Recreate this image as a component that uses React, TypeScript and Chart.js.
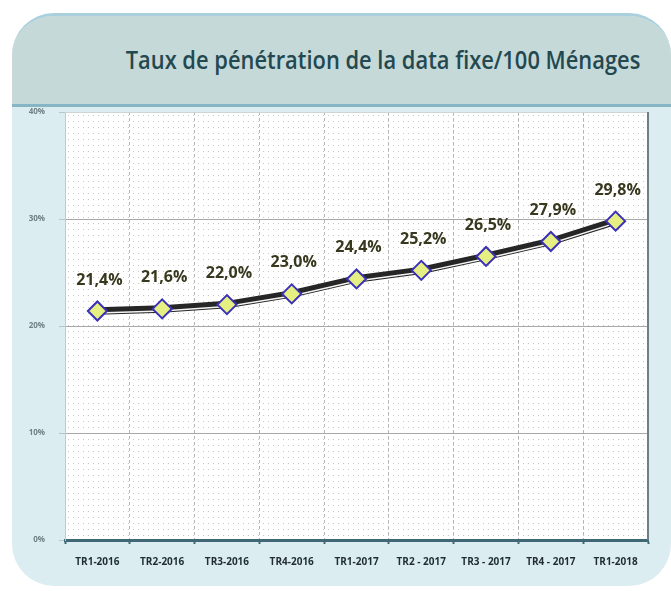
import React, { useEffect, useRef } from "react";
import { Chart, registerables } from "chart.js";
Chart.register(...registerables);

const categories = ["TR1-2016", "TR2-2016", "TR3-2016", "TR4-2016", "TR1-2017", "TR2 - 2017", "TR3 - 2017", "TR4 - 2017", "TR1-2018"];
const values = [21.4, 21.6, 22.0, 23.0, 24.4, 25.2, 26.5, 27.9, 29.8];
const yMin = 0;
const yMax = 40;
const yStep = 10;
const titleText = "Taux de pénétration de la data fixe/100 Ménages";

const fmt = (v: number) => v.toFixed(1).replace(".", ",") + "%";

const bgPlugin = {
  id: "bgPattern",
  beforeDraw(chart: any) {
    const { ctx, chartArea: a } = chart;
    ctx.save();
    ctx.fillStyle = "#ffffff";
    ctx.fillRect(a.left, a.top, a.right - a.left, a.bottom - a.top);
    ctx.fillStyle = "#c8c8c8";
    for (let y = a.top + 3; y < a.bottom; y += 6) {
      for (let x = a.left + 3; x < a.right; x += 5) {
        ctx.fillRect(x, y, 1, 1);
      }
    }
    ctx.restore();
  },
  afterDraw(chart: any) {
    const { ctx, chartArea: a } = chart;
    ctx.save();
    ctx.strokeStyle = "#cfd4d6";
    ctx.lineWidth = 1;
    ctx.beginPath();
    ctx.moveTo(a.left, a.top + 0.5);
    ctx.lineTo(a.right, a.top + 0.5);
    ctx.stroke();
    ctx.strokeStyle = "#6f7f85";
    ctx.lineWidth = 2;
    ctx.beginPath();
    ctx.moveTo(a.right, a.top);
    ctx.lineTo(a.right, a.bottom);
    ctx.stroke();
    ctx.restore();
  },
};

const shiftPlugin = {
  id: "shiftLine",
  beforeDatasetDraw(chart: any, args: any) {
    if (args.index === 1) {
      chart.ctx.save();
      chart.ctx.translate(0, 2);
    }
  },
  afterDatasetDraw(chart: any, args: any) {
    if (args.index === 1) chart.ctx.restore();
  },
};

const labelPlugin = {
  id: "valueLabels",
  afterDatasetsDraw(chart: any) {
    const { ctx } = chart;
    const meta = chart.getDatasetMeta(2);
    ctx.save();
    ctx.font = "bold 16px 'Open Sans'";
    ctx.fillStyle = "#38381f";
    ctx.textAlign = "center";
    ctx.textBaseline = "middle";
    meta.data.forEach((pt: any, i: number) => {
      ctx.fillText(fmt(values[i]), pt.x + 2, pt.y - 31);
    });
    ctx.restore();
  },
};

export default function App() {
  const ref = useRef<HTMLCanvasElement | null>(null);
  useEffect(() => {
    if (!ref.current) return;
    const chart = new Chart(ref.current, {
      type: "line",
      data: {
        labels: categories,
        datasets: [
          {
            data: values,
            showLine: false,
            pointStyle: "rectRot",
            pointRadius: 9.5,
            pointBackgroundColor: "#e6ef82",
            pointBorderColor: "#3b30b8",
            pointBorderWidth: 2,
            order: 0,
          },
          {
            data: values,
            borderColor: "rgba(255,255,255,0.95)",
            borderWidth: 1.5,
            pointRadius: 0,
            tension: 0,
            order: 1,
          },
          {
            data: values,
            borderColor: "#262626",
            borderWidth: 7.5,
            pointRadius: 0,
            tension: 0,
            order: 2,
          },
        ],
      },
      options: {
        animation: false,
        responsive: false,
        layout: { padding: { left: 0, top: 112, right: 23, bottom: 0 } },
        plugins: { legend: { display: false }, tooltip: { enabled: false }, title: { display: false } },
        scales: {
          x: {
            offset: true,
            afterFit: (s: any) => { s.height = 51; },
            grid: {
              offset: true,
              color: "#b5b5b5",
              lineWidth: 1,
              drawTicks: true,
              tickLength: 4,
              tickColor: "#3f6874",
              tickWidth: 2,
            },
            border: { display: true, color: "#3f6874", width: 3, dash: [3, 3] },
            ticks: {
              padding: 12,
              color: "#1f2d33",
              font: { family: "'Open Sans'", size: 10, weight: "bold" },
              maxRotation: 0,
              autoSkip: false,
            },
          },
          y: {
            min: yMin,
            max: yMax,
            afterFit: (s: any) => { s.width = 65; },
            grid: { color: "#a8a8a8", lineWidth: 1, tickLength: 6, tickColor: "#b8c4c8" },
            border: { display: true, color: "#c4c9cb", width: 1 },
            ticks: {
              stepSize: yStep,
              padding: 14,
              color: "#6f8085",
              font: { family: "'Open Sans'", size: 8, weight: "bold" },
              callback: (v: any) => v + "%",
            },
          },
        },
      },
      plugins: [bgPlugin, shiftPlugin, labelPlugin],
    });
    return () => chart.destroy();
  }, []);

  return (
    <div style={{ position: "fixed", left: 0, top: 0, width: 671, height: 591, background: "#ffffff", overflow: "hidden" }}>
      <div
        style={{
          position: "absolute",
          left: 12,
          top: 13,
          width: 659,
          height: 573,
          borderRadius: 42,
          background: "#dcedf2",
          overflow: "hidden",
          borderTop: "3px solid #a9d0dc",
          boxSizing: "border-box",
        }}
      >
        <div
          style={{
            position: "absolute",
            left: 0,
            top: 0,
            width: "100%",
            height: 88,
            background: "#c6d9d9",
            borderBottom: "3px solid #86b6c5",
          }}
        />
      </div>
      <div
        style={{
          position: "absolute",
          left: 83,
          top: 39,
          width: 600,
          textAlign: "center",
          fontFamily: "'Open Sans', sans-serif",
          fontWeight: 600,
          fontSize: 25,
          color: "#23484f",
          lineHeight: "40px",
          whiteSpace: "nowrap",
          transform: "scaleX(0.875)",
          transformOrigin: "center",
        }}
      >
        {titleText}
      </div>
      <canvas ref={ref} width={671} height={591} style={{ position: "absolute", left: 0, top: 0 }} />
    </div>
  );
}
